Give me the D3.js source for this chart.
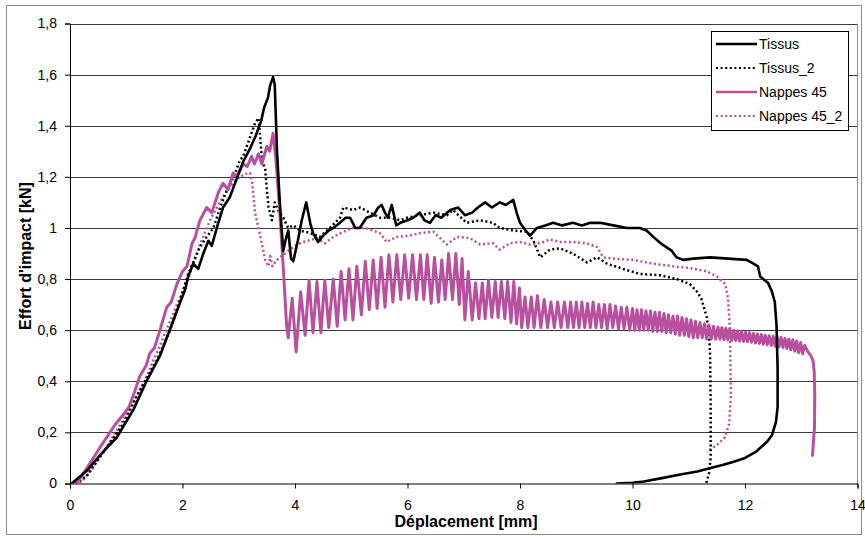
<!DOCTYPE html>
<html><head><meta charset="utf-8">
<script src="https://cdn.jsdelivr.net/npm/d3@7"></script>
<style>
body{margin:0;background:#fff;}
svg{display:block;font-family:"Liberation Sans",Arial,sans-serif;}
</style></head>
<body>
<svg id="chart" width="865" height="538"></svg>
<script>
// ---- data ----
const xTicks = [0, 2, 4, 6, 8, 10, 12, 14];
const yTicks = [0, 0.2, 0.4, 0.6, 0.8, 1, 1.2, 1.4, 1.6, 1.8];
const yTickLabels = ["0", "0,2", "0,4", "0,6", "0,8", "1", "1,2", "1,4", "1,6", "1,8"];
const seriesNames = ["Tissus", "Tissus_2", "Nappes 45", "Nappes 45_2"];
const xTitle = "Déplacement [mm]";
const yTitle = "Effort d'impact [kN]";

const tissus = [[0.03,0],[0.3,0.05],[0.53,0.11],[0.83,0.18],[1.13,0.29],[1.36,0.40],[1.6,0.50],[1.84,0.64],[1.96,0.71],[2.05,0.76],[2.1,0.81],[2.19,0.86],[2.28,0.84],[2.37,0.9],[2.46,0.95],[2.52,0.93],[2.61,1.0],[2.72,1.08],[2.84,1.12],[2.96,1.19],[3.08,1.26],[3.2,1.31],[3.3,1.36],[3.4,1.42],[3.45,1.47],[3.52,1.51],[3.56,1.56],[3.61,1.59],[3.64,1.56],[3.68,1.3],[3.73,1.1],[3.79,0.91],[3.84,0.96],[3.88,0.99],[3.93,0.88],[3.97,0.87],[4.05,0.95],[4.12,1.03],[4.2,1.10],[4.27,1.02],[4.32,0.98],[4.41,0.945],[4.5,0.97],[4.6,0.99],[4.68,1.0],[4.8,1.02],[4.9,1.04],[4.98,1.04],[5.07,1.0],[5.15,1.0],[5.27,1.04],[5.4,1.05],[5.48,1.08],[5.54,1.09],[5.6,1.06],[5.65,1.04],[5.72,1.09],[5.8,1.01],[5.87,1.02],[6.0,1.03],[6.1,1.04],[6.22,1.06],[6.3,1.03],[6.4,1.02],[6.5,1.05],[6.6,1.04],[6.76,1.07],[6.9,1.08],[7.02,1.05],[7.15,1.06],[7.25,1.08],[7.38,1.10],[7.5,1.08],[7.64,1.10],[7.75,1.09],[7.88,1.11],[7.94,1.06],[8.0,1.02],[8.1,0.99],[8.18,0.97],[8.3,1.0],[8.45,1.01],[8.59,1.02],[8.75,1.01],[8.94,1.02],[9.1,1.01],[9.25,1.02],[9.42,1.02],[9.66,1.01],[9.9,1.0],[10.13,1.0],[10.25,0.99],[10.37,0.965],[10.5,0.94],[10.6,0.925],[10.7,0.91],[10.78,0.885],[10.9,0.875],[11.08,0.88],[11.38,0.885],[11.7,0.88],[12.03,0.875],[12.15,0.86],[12.23,0.85],[12.27,0.81],[12.35,0.795],[12.41,0.785],[12.48,0.75],[12.53,0.71],[12.56,0.62],[12.58,0.45],[12.58,0.30],[12.55,0.24],[12.48,0.19],[12.4,0.165],[12.2,0.125],[12.0,0.10],[11.8,0.085],[11.6,0.072],[11.37,0.06],[11.15,0.047],[10.85,0.035],[10.5,0.02],[10.2,0.008],[10.0,0.003],[9.72,0]];

const tissus2 = [[0.1,0],[0.3,0.03],[0.65,0.14],[0.95,0.235],[1.24,0.365],[1.54,0.48],[1.78,0.6],[1.92,0.69],[2.1,0.82],[2.31,0.925],[2.43,0.965],[2.55,1.0],[2.67,1.08],[2.79,1.15],[2.93,1.21],[3.02,1.265],[3.08,1.28],[3.2,1.355],[3.29,1.41],[3.35,1.43],[3.38,1.36],[3.41,1.27],[3.47,1.23],[3.5,1.15],[3.53,1.08],[3.59,1.03],[3.64,1.10],[3.7,1.07],[3.79,1.04],[3.88,1.0],[3.97,1.01],[4.09,0.99],[4.27,0.98],[4.44,0.965],[4.62,1.0],[4.8,1.04],[4.86,1.08],[5.03,1.07],[5.16,1.08],[5.33,1.06],[5.51,1.04],[5.69,1.04],[5.87,1.03],[5.99,1.04],[6.22,1.05],[6.46,1.06],[6.7,1.05],[6.81,1.07],[7.05,1.02],[7.29,1.03],[7.52,1.02],[7.64,1.0],[7.88,0.99],[8.12,0.985],[8.24,0.95],[8.36,0.885],[8.53,0.915],[8.71,0.92],[8.94,0.90],[9.19,0.865],[9.37,0.885],[9.55,0.86],[9.9,0.835],[10.13,0.82],[10.49,0.815],[10.79,0.80],[11.02,0.78],[11.15,0.75],[11.23,0.72],[11.32,0.65],[11.36,0.59],[11.38,0.5],[11.39,0.3],[11.39,0.1],[11.36,0.04],[11.31,0]];

const nappes45 = [[0.12,0],[0.3,0.06],[0.53,0.14],[0.71,0.2],[0.8,0.23],[0.95,0.27],[1.05,0.3],[1.15,0.36],[1.24,0.42],[1.35,0.46],[1.42,0.51],[1.5,0.53],[1.6,0.6],[1.72,0.69],[1.8,0.71],[1.9,0.78],[2.0,0.83],[2.08,0.85],[2.17,0.94],[2.22,0.96],[2.31,1.03],[2.43,1.08],[2.52,1.06],[2.64,1.14],[2.72,1.175],[2.81,1.15],[2.9,1.215],[2.96,1.20],[3.08,1.25],[3.15,1.24],[3.23,1.28],[3.28,1.25],[3.35,1.29],[3.41,1.25],[3.5,1.32],[3.55,1.30],[3.61,1.37],[3.66,1.27],[3.73,1.06],[3.79,0.85],[3.85,0.62],[3.88,0.57],
[3.95,0.725],[4.02,0.515],[4.10,0.75],[4.18,0.58],[4.25,0.795],[4.32,0.59],[4.39,0.79],[4.46,0.59],[4.53,0.795],[4.60,0.61],[4.68,0.80],[4.75,0.615],[4.82,0.83],[4.89,0.64],[4.96,0.84],[5.03,0.64],[5.10,0.85],[5.18,0.66],[5.25,0.87],[5.32,0.68],[5.39,0.875],[5.46,0.685],[5.53,0.885],[5.60,0.69],[5.67,0.895],[5.74,0.71],[5.81,0.895],[5.88,0.72],[5.95,0.895],[6.02,0.725],[6.09,0.895],[6.16,0.72],[6.23,0.895],
[6.29,0.72],[6.35,0.895],[6.42,0.705],[6.48,0.885],[6.55,0.71],[6.61,0.875],[6.67,0.72],[6.73,0.90],[6.80,0.72],[6.86,0.90],[6.92,0.70],[6.97,0.88],[7.02,0.64],[7.08,0.83],[7.15,0.64],[7.21,0.785],[7.27,0.645],[7.33,0.785],[7.38,0.645],[7.44,0.795],[7.50,0.65],[7.56,0.79],[7.61,0.65],[7.67,0.79],[7.73,0.645],[7.78,0.79],[7.84,0.63],[7.89,0.79],[7.94,0.625],[7.99,0.765],[8.03,0.61],[8.09,0.73],[8.14,0.61],[8.20,0.73],[8.25,0.61],[8.31,0.735],[8.37,0.61],[8.43,0.72],[8.49,0.61],[8.55,0.71],[8.61,0.61],[8.67,0.71],[8.73,0.61],[8.79,0.71],
[8.85,0.61],[8.90,0.71],[8.95,0.61],[9.00,0.71],[9.05,0.61],[9.10,0.71],[9.15,0.61],[9.20,0.705],[9.25,0.61],[9.30,0.71],[9.35,0.61],[9.40,0.70],[9.45,0.61],[9.50,0.70],[9.55,0.605],[9.60,0.70],[9.65,0.61],[9.70,0.695],[9.75,0.605],[9.80,0.69],[9.85,0.605],[9.90,0.69],[9.95,0.60],[10.00,0.685],
[10.04,0.60],[10.08,0.68],[10.12,0.60],[10.16,0.68],[10.20,0.60],[10.24,0.675],[10.28,0.60],[10.32,0.675],[10.36,0.595],[10.40,0.67],[10.44,0.595],[10.48,0.67],[10.52,0.595],[10.56,0.665],[10.60,0.59],[10.64,0.66],[10.68,0.59],[10.72,0.655],[10.76,0.585],[10.80,0.655],[10.84,0.58],[10.88,0.65],[10.92,0.58],[10.96,0.645],[11.00,0.575],[11.04,0.64],[11.08,0.57],[11.12,0.635],[11.16,0.57],[11.20,0.63],[11.24,0.57],[11.28,0.625],[11.32,0.565],[11.36,0.62],[11.40,0.565],[11.44,0.615],[11.48,0.565],
[11.52,0.612],[11.555,0.565],[11.59,0.61],[11.625,0.563],[11.66,0.607],[11.695,0.562],[11.73,0.605],[11.765,0.56],[11.80,0.60],[11.835,0.56],[11.87,0.598],[11.905,0.558],[11.94,0.595],[11.975,0.556],[12.01,0.593],[12.045,0.555],[12.08,0.59],[12.115,0.553],[12.15,0.588],[12.185,0.55],[12.22,0.585],[12.255,0.548],[12.29,0.583],[12.325,0.545],[12.36,0.58],[12.395,0.543],[12.43,0.578],[12.465,0.54],[12.50,0.577],[12.535,0.537],[12.57,0.575],[12.605,0.535],[12.64,0.572],[12.675,0.532],[12.71,0.568],[12.745,0.528],[12.78,0.565],[12.815,0.523],[12.85,0.562],[12.885,0.518],[12.92,0.558],[12.955,0.512],[12.99,0.552],[13.025,0.508],[13.06,0.54],
[13.12,0.515],[13.17,0.50],[13.21,0.48],[13.23,0.44],[13.24,0.35],[13.235,0.22],[13.2,0.11]];

const nappes45_2 = [[0.18,0],[0.4,0.06],[0.7,0.16],[1.0,0.27],[1.3,0.39],[1.6,0.54],[1.9,0.7],[2.1,0.8],[2.3,0.93],[2.49,1.03],[2.61,1.08],[2.72,1.12],[2.84,1.16],[2.96,1.19],[3.1,1.21],[3.2,1.215],[3.24,1.175],[3.29,1.06],[3.35,1.0],[3.41,0.94],[3.47,0.875],[3.53,0.85],[3.56,0.89],[3.6,0.85],[3.66,0.87],[3.73,0.885],[3.85,0.905],[4.03,0.935],[4.15,0.945],[4.39,0.96],[4.53,0.94],[4.68,0.965],[4.86,0.985],[5.03,1.0],[5.25,1.0],[5.51,0.98],[5.63,0.945],[5.8,0.965],[6.04,0.97],[6.22,0.98],[6.46,0.985],[6.58,0.96],[6.7,0.935],[6.88,0.965],[7.11,0.96],[7.29,0.935],[7.52,0.94],[7.64,0.915],[7.82,0.94],[8.0,0.945],[8.18,0.935],[8.36,0.94],[8.53,0.955],[8.71,0.945],[8.94,0.945],[9.19,0.94],[9.37,0.925],[9.48,0.885],[9.66,0.88],[10.01,0.875],[10.37,0.86],[10.72,0.85],[11.02,0.843],[11.32,0.83],[11.5,0.81],[11.65,0.78],[11.7,0.72],[11.73,0.61],[11.75,0.35],[11.72,0.235],[11.64,0.18],[11.5,0.15],[11.32,0.125]];

// ---- layout ----
const svg = d3.select("#chart");
const M = {left: 70, right: 857.5, top: 23.5, bottom: 483.5};
const x = d3.scaleLinear().domain([0, 14]).range([M.left, M.right]);
const y = d3.scaleLinear().domain([0, 1.8]).range([M.bottom, M.top]);
const FONT = "'Liberation Sans', Arial, sans-serif";

// outer chart border
svg.append("rect").attr("x", 6.5).attr("y", 5.5).attr("width", 855).attr("height", 529)
  .attr("fill", "#fff").attr("stroke", "#8c8c8c").attr("stroke-width", 1);

// gridlines
svg.append("g").selectAll("line").data(yTicks.slice(1)).join("line")
  .attr("x1", M.left).attr("x2", M.right)
  .attr("y1", d => Math.round(y(d)) + 0.5).attr("y2", d => Math.round(y(d)) + 0.5)
  .attr("stroke", "#3a3a3a").attr("stroke-width", 1);

// plot area right border
svg.append("line").attr("x1", M.right).attr("x2", M.right).attr("y1", M.top).attr("y2", M.bottom)
  .attr("stroke", "#8c8c8c");

// axes
const yAxis = d3.axisLeft(y).tickValues(yTicks).tickSize(5).tickPadding(8)
  .tickFormat((d, i) => yTickLabels[i]);
const gy = svg.append("g").attr("transform", `translate(${M.left},0)`).call(yAxis);
const xAxis = d3.axisBottom(x).tickValues(xTicks).tickSize(5).tickPadding(12)
  .tickFormat(d => String(d));
const gx = svg.append("g").attr("transform", `translate(0,${M.bottom})`).call(xAxis);
[gx, gy].forEach(g => {
  g.select(".domain").attr("stroke", "#000");
  g.selectAll(".tick line").attr("stroke", "#000");
  g.selectAll("text").attr("font-size", 14).attr("fill", "#000").attr("font-family", FONT);
});

// series
const line = d3.line().x(d => x(d[0])).y(d => y(d[1]));
svg.append("clipPath").attr("id", "clip").append("rect")
  .attr("x", M.left).attr("y", M.top - 5).attr("width", M.right - M.left).attr("height", M.bottom - M.top + 5);
const magenta = "#b8509f";
const seriesDefs = [
  {data: nappes45_2, color: magenta, width: 2.5, dash: "2,2.6"},
  {data: tissus2, color: "#000", width: 2.5, dash: "2,2.6"},
  {data: nappes45, color: magenta, width: 3, dash: null},
  {data: tissus, color: "#000", width: 2.6, dash: null}
];
const gS = svg.append("g").attr("clip-path", "url(#clip)");
seriesDefs.forEach(s => {
  gS.append("path").attr("d", line(s.data)).attr("fill", "none")
    .attr("stroke", s.color).attr("stroke-width", s.width)
    .attr("stroke-linejoin", "round").attr("stroke-linecap", s.dash ? "butt" : "round")
    .attr("stroke-dasharray", s.dash);
});

// axis titles
svg.append("text").attr("x", 466).attr("y", 527).attr("text-anchor", "middle")
  .attr("font-family", FONT).attr("font-size", 16).attr("font-weight", "bold").text(xTitle);
svg.append("text").attr("transform", "translate(31,256) rotate(-90)").attr("text-anchor", "middle")
  .attr("font-family", FONT).attr("font-size", 16).attr("font-weight", "bold").text(yTitle);

// legend
const lg = svg.append("g");
lg.append("rect").attr("x", 711.5).attr("y", 31.5).attr("width", 137).attr("height", 99)
  .attr("fill", "#fff").attr("stroke", "#000").attr("stroke-width", 1);
const legendStyles = [
  {color: "#000", width: 2.6, dash: null},
  {color: "#000", width: 2, dash: "2,2.6"},
  {color: magenta, width: 2.6, dash: null},
  {color: magenta, width: 2, dash: "2,2.6"}
];
seriesNames.forEach((name, i) => {
  const yy = 44 + i * 24;
  lg.append("line").attr("x1", 716).attr("x2", 757).attr("y1", yy).attr("y2", yy)
    .attr("stroke", legendStyles[i].color).attr("stroke-width", legendStyles[i].width)
    .attr("stroke-dasharray", legendStyles[i].dash);
  lg.append("text").attr("x", 759).attr("y", yy + 5).attr("font-family", FONT)
    .attr("font-size", 14).text(name);
});
</script>
</body></html>
